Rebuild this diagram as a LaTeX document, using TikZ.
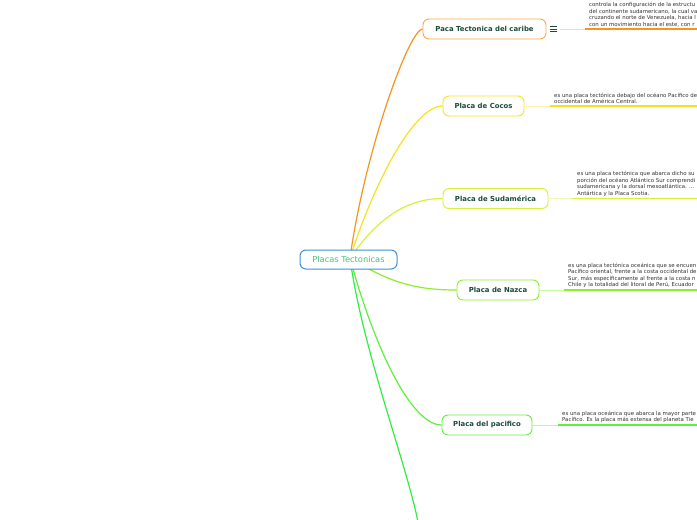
\documentclass[tikz,border=0pt]{standalone}
\usepackage{fontspec}
\setmainfont{DejaVu Sans}
\usetikzlibrary{backgrounds}
\definecolor{nodetext}{HTML}{1C4A3C}
\definecolor{desctext}{HTML}{333333}
\definecolor{rootborder}{HTML}{3B8FD9}
\definecolor{roottext}{HTML}{47C27D}
\definecolor{orgA}{HTML}{F7941D}
\definecolor{orgB}{HTML}{F8AA3C}
\definecolor{orgC}{HTML}{FCD7A8}
\definecolor{yelA}{HTML}{F6E320}
\definecolor{yelC}{HTML}{FAF1A8}
\definecolor{sudA}{HTML}{D8F03C}
\definecolor{sudC}{HTML}{EEF8B0}
\definecolor{nazA}{HTML}{8DEF2C}
\definecolor{nazC}{HTML}{CAF8A4}
\definecolor{pacA}{HTML}{5EF03C}
\definecolor{pacC}{HTML}{B8F8A8}
\definecolor{botA}{HTML}{30EE44}
\tikzset{
  topic/.style={draw, rounded corners=6pt, fill=white, line width=0.9pt,
    minimum height=20pt, inner sep=0pt,
    font=\fontsize{6.9}{8}\selectfont\bfseries, text=nodetext},
  rootnode/.style={draw=rootborder, rounded corners=6pt, fill=white, line width=1pt,
    minimum height=19pt, minimum width=97pt, inner sep=0pt,
    font=\fontsize{8.3}{9}\selectfont, text=roottext},
  desc/.style={anchor=south west, inner sep=0pt, align=left,
    font=\fontsize{5.4}{6.4}\selectfont, text=desctext},
  menuicon/.style={minimum width=7pt, minimum height=7pt, inner sep=0pt,
    path picture={
      \draw[nodetext, line width=0.7pt]
        ([yshift=-2.2pt]path picture bounding box.west) -- ([yshift=-2.2pt]path picture bounding box.east)
        (path picture bounding box.west) -- (path picture bounding box.east)
        ([yshift=2.2pt]path picture bounding box.west) -- ([yshift=2.2pt]path picture bounding box.east);
    }},
  branch/.style={line width=1.2pt},
  stub/.style={line width=0.8pt},
  under/.style={line width=1.4pt}
}
\begin{document}
\begin{tikzpicture}[x=1pt,y=-1pt]
\useasboundingbox (0,0) rectangle (697,520);
\clip (0,0) rectangle (697,520);

\coordinate (root) at (350,258);

% topic nodes
\node[topic, draw=orgB, minimum width=123pt] (caribe) at (484.5,29) {Paca Tectonica del caribe};
\node[topic, draw=yelA, minimum width=81pt] (cocos) at (483.5,106) {Placa de Cocos};
\node[topic, draw=sudA, minimum width=105pt] (sud) at (495.5,198.5) {Placa de Sudamérica};
\node[topic, draw=nazA, minimum width=82pt] (nazca) at (498,290) {Placa de Nazca};
\node[topic, draw=pacA, minimum width=90pt] (pac) at (487,425) {Placa del pacifico};
\coordinate (bottomend) at (418,522);

% central node
\node[rootnode] (center) at (348.5,259.5) {Placas Tectonicas};

% branches
\begin{scope}[on background layer]
\fill[white] (0,0) rectangle (697,520);
\draw[branch, orgA] (root) .. controls +(15,-108) and +(-13,0) .. (caribe.west);
\draw[branch, yelA] (root) .. controls +(25,-78) and +(-28,0) .. (cocos.west);
\draw[branch, sudA] (root) .. controls +(30,-43) and +(-33,0) .. (sud.west);
\draw[branch, nazA] (root) .. controls +(40,25) and +(-40,0) .. (nazca.west);
\draw[branch, pacA] (root) .. controls +(22,82) and +(-32,0) .. (pac.west);
\draw[branch, botA] (root) .. controls +(12,90) and +(-12,-60) .. (bottomend);
\end{scope}

% caribe detail
\node[menuicon] (menu) at (553.5,29) {};
\coordinate (c1a) at (585,29);
\coordinate (c1b) at (697,29);
\draw[stub, orgC] ([xshift=3pt]menu.east) -- (c1a);
\draw[under, orgA] (c1a) -- (c1b);
\node[desc] (t1) at (589,27) {controla la configuración de la estructu\\del continente sudamericano, la cual va\\cruzando el norte de Venezuela, hacia l\\con un movimiento hacia el este, con r};

% cocos detail
\coordinate (c2a) at (550,106);
\coordinate (c2b) at (697,106);
\draw[stub, yelC] (cocos.east) -- (c2a);
\draw[under, yelA] (c2a) -- (c2b);
\node[desc] (t2) at (554,104) {es una placa tectónica debajo del océano Pacífico de\\occidental de América Central.};

% sudamerica detail
\coordinate (c3a) at (573,198.5);
\coordinate (c3b) at (697,198.5);
\draw[stub, sudC] (sud.east) -- (c3a);
\draw[under, sudA] (c3a) -- (c3b);
\node[desc] (t3) at (577,196.5) {es una placa tectónica que abarca dicho su\\porción del océano Atlántico Sur comprendi\\sudamericana y la dorsal mesoatlántica. ...\\Antártica y la Placa Scotia.};

% nazca detail
\coordinate (c4a) at (564,290);
\coordinate (c4b) at (697,290);
\draw[stub, nazC] (nazca.east) -- (c4a);
\draw[under, nazA] (c4a) -- (c4b);
\node[desc] (t4) at (568,288) {es una placa tectónica oceánica que se encuen\\Pacífico oriental, frente a la costa occidental de\\Sur, más específicamente al frente a la costa n\\Chile y la totalidad del litoral de Perú, Ecuador};

% pacifico detail
\coordinate (c5a) at (558,425);
\coordinate (c5b) at (697,425);
\draw[stub, pacC] (pac.east) -- (c5a);
\draw[under, pacA] (c5a) -- (c5b);
\node[desc] (t5) at (562,423) {es una placa oceánica que abarca la mayor parte\\Pacífico. Es la placa más extensa del planeta Tie};
\end{tikzpicture}
\end{document}
